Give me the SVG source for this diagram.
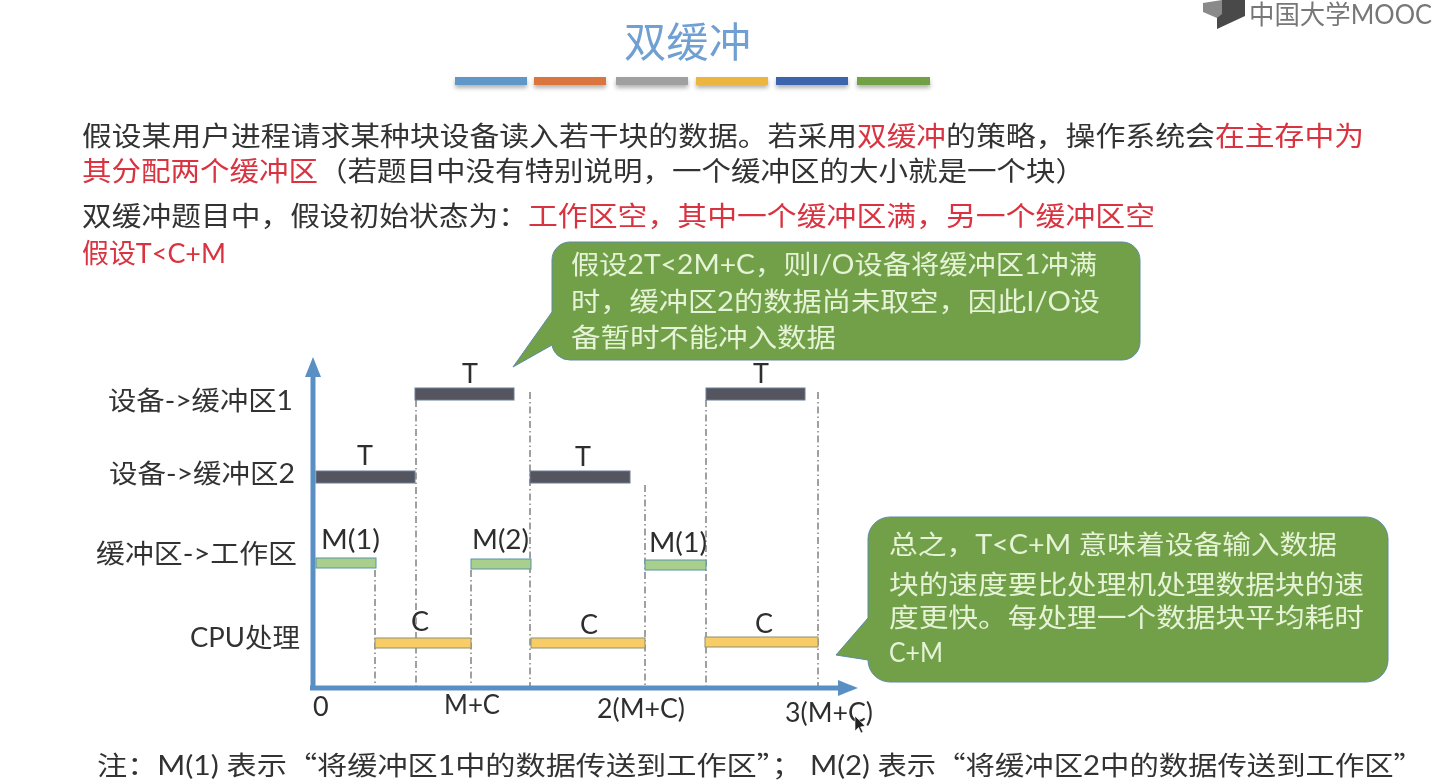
<svg xmlns="http://www.w3.org/2000/svg" width="1434" height="784" viewBox="0 0 1434 784">
<style>
text{font-family:"Lato","Noto Sans CJK SC",sans-serif;fill:#333}
.p{font-size:27px}
.r{fill:#d9333f}
.l{font-size:26px;fill:#333}
.s{font-size:27px;fill:#2e2e2e}
.b{font-size:26px;fill:#e6f3d6}
.q{font-family:"Noto Sans CJK SC",sans-serif}
.bub{fill:#71a04a;stroke:#5d8aa8;stroke-width:1}
.T{fill:#55555f;stroke:#6a7f95;stroke-width:1}
.M{fill:#a9cf8c;stroke:#5a93a8;stroke-width:1}
.C{fill:#f8cd68;stroke:#8f8f70;stroke-width:1}
.dash{stroke:#444;stroke-width:1;stroke-dasharray:7 3 1.5 3;fill:none}
.axis{stroke:#5a8fc3;stroke-width:5;fill:none}
.st{filter:url(#sh)}
</style>
<defs>
<filter id="soft" x="0" y="0" width="100%" height="100%"><feGaussianBlur stdDeviation="0.45"/></filter>
<filter id="sh" x="-10%" y="-50%" width="120%" height="250%"><feDropShadow dx="0" dy="3" stdDeviation="2" flood-color="#000" flood-opacity="0.3"/></filter>
<marker id="ah" viewBox="0 0 10 10" refX="2" refY="5" markerWidth="4" markerHeight="3.2" orient="auto" markerUnits="strokeWidth" preserveAspectRatio="none"><path d="M0 0L10 5L0 10z" fill="#5a8fc3"/></marker>
</defs>
<rect width="1434" height="784" fill="#fff"/>
<g filter="url(#soft)">
<g id="logo">
<path d="M1203 3L1222 0L1222 20L1217 29L1217 18L1203 12z" fill="#8a8a8a"/>
<path d="M1222 0L1245 0L1245 16L1217 29L1217 18L1222 14z" fill="#4a4a4a"/>
<text x="1249" y="24" font-size="26" textLength="183" lengthAdjust="spacingAndGlyphs" style="fill:#777">中国大学MOOC</text>
</g>
<g id="title">
<text x="624" y="57" font-size="41" textLength="127" lengthAdjust="spacingAndGlyphs" style="fill:#6f9fd2">双缓冲</text>
<rect class="st" x="455" y="77" width="72" height="8" fill="#5f97c8"/>
<rect class="st" x="534" y="77" width="72" height="8" fill="#d9743c"/>
<rect class="st" x="616" y="77" width="72" height="8" fill="#a0a0a0"/>
<rect class="st" x="696" y="77" width="72" height="8" fill="#ebb540"/>
<rect class="st" x="776" y="77" width="72" height="8" fill="#3a64ae"/>
<rect class="st" x="857" y="77" width="73" height="8" fill="#70a245"/>
</g>
<g id="intro">
<text class="p" x="82" y="146" textLength="775" lengthAdjust="spacingAndGlyphs">假设某用户进程请求某种块设备读入若干块的数据。若采用</text>
<text class="p r" x="857" y="146" textLength="89" lengthAdjust="spacingAndGlyphs">双缓冲</text>
<text class="p" x="946" y="146" textLength="269" lengthAdjust="spacingAndGlyphs">的策略，操作系统会</text>
<text class="p r" x="1215" y="146" textLength="149" lengthAdjust="spacingAndGlyphs">在主存中为</text>
<text class="p r" x="82" y="181" textLength="236" lengthAdjust="spacingAndGlyphs">其分配两个缓冲区</text>
<text class="p" x="318" y="181" textLength="767" lengthAdjust="spacingAndGlyphs">（若题目中没有特别说明，一个缓冲区的大小就是一个块）</text>
<text class="p" x="82" y="226" textLength="446" lengthAdjust="spacingAndGlyphs">双缓冲题目中，假设初始状态为：</text>
<text class="p r" x="528" y="226" textLength="627" lengthAdjust="spacingAndGlyphs">工作区空，其中一个缓冲区满，另一个缓冲区空</text>
<text class="p r" x="82" y="263" textLength="144" lengthAdjust="spacingAndGlyphs">假设T&lt;C+M</text>
</g>
<g id="connectors">
<path class="dash" d="M416 400V688M530 392V688M645 485V688M706 400V688M818 392V688M375 570V688M471 570V688"/>
<path class="axis" d="M313 690V373" marker-end="url(#ah)"/>
<path class="axis" d="M310 688H842" marker-end="url(#ah)"/>
</g>
<g id="row-device-buffer1">
<text class="l" x="108" y="410" textLength="185" lengthAdjust="spacingAndGlyphs">设备-&gt;缓冲区1</text>
<rect class="T" x="415" y="388" width="99" height="12"/><text class="s" x="462" y="383">T</text>
<rect class="T" x="706" y="388" width="99" height="12"/><text class="s" x="753" y="383">T</text>
</g>
<g id="row-device-buffer2">
<text class="l" x="109" y="483" textLength="186" lengthAdjust="spacingAndGlyphs">设备-&gt;缓冲区2</text>
<rect class="T" x="316" y="471" width="99" height="12"/><text class="s" x="357" y="465">T</text>
<rect class="T" x="530" y="471" width="100" height="12"/><text class="s" x="575" y="466">T</text>
</g>
<g id="row-buffer-work">
<text class="l" x="96" y="563" textLength="201" lengthAdjust="spacingAndGlyphs">缓冲区-&gt;工作区</text>
<rect class="M" x="316" y="558" width="60" height="10"/><text class="s" x="321" y="549" textLength="59" lengthAdjust="spacingAndGlyphs">M(1)</text>
<rect class="M" x="471" y="559" width="60" height="10"/><text class="s" x="472" y="549" textLength="57" lengthAdjust="spacingAndGlyphs">M(2)</text>
<rect class="M" x="645" y="560" width="61" height="10"/><text class="s" x="649" y="552" textLength="58" lengthAdjust="spacingAndGlyphs">M(1)</text>
</g>
<g id="row-cpu">
<text class="l" x="190" y="647" textLength="110" lengthAdjust="spacingAndGlyphs">CPU处理</text>
<rect class="C" x="375" y="638" width="96" height="10"/><text class="s" x="411" y="631">C</text>
<rect class="C" x="531" y="638" width="114" height="10"/><text class="s" x="580" y="634">C</text>
<rect class="C" x="705" y="637" width="113" height="10"/><text class="s" x="755" y="633">C</text>
</g>
<g id="ticks">
<text class="s" x="313" y="716">0</text>
<text class="s" x="444" y="714" textLength="56" lengthAdjust="spacingAndGlyphs">M+C</text>
<text class="s" x="597" y="718" textLength="88" lengthAdjust="spacingAndGlyphs">2(M+C)</text>
<text class="s" x="785" y="722" textLength="88" lengthAdjust="spacingAndGlyphs">3(M+C)</text>
</g>
<path id="cursor" d="M855 716L855 731L858.500 727.500L861 733L863 732L860.500 727L865 726z" fill="#222" stroke="#fff" stroke-width="0.600"/>
<g id="callout-1">
<path class="bub" d="M570 242H1122A18 18 0 0 1 1140 260V342A18 18 0 0 1 1122 360H570A18 18 0 0 1 552 345L513 367L552 312V260A18 18 0 0 1 570 242z"/>
<text class="b" x="571" y="274" textLength="526" lengthAdjust="spacingAndGlyphs">假设2T&lt;2M+C，则I/O设备将缓冲区1冲满</text>
<text class="b" x="571" y="311" textLength="529" lengthAdjust="spacingAndGlyphs">时，缓冲区2的数据尚未取空，因此I/O设</text>
<text class="b" x="571" y="347" textLength="265" lengthAdjust="spacingAndGlyphs">备暂时不能冲入数据</text>
</g>
<g id="callout-2">
<path class="bub" d="M890 517H1366A22 22 0 0 1 1388 539V660A22 22 0 0 1 1366 682H890A22 22 0 0 1 868 660L836 655L868 618V539A22 22 0 0 1 890 517z"/>
<text class="b" x="889" y="554" textLength="448" lengthAdjust="spacingAndGlyphs">总之，T&lt;C+M 意味着设备输入数据</text>
<text class="b" x="889" y="594" textLength="475" lengthAdjust="spacingAndGlyphs">块的速度要比处理机处理数据块的速</text>
<text class="b" x="889" y="627" textLength="475" lengthAdjust="spacingAndGlyphs">度更快。每处理一个数据块平均耗时</text>
<text class="b" x="889" y="662" textLength="54" lengthAdjust="spacingAndGlyphs">C+M</text>
</g>
<g id="note">
<text class="l" x="97" y="775" textLength="705" lengthAdjust="spacingAndGlyphs">注：M(1) 表示<tspan class="q">“</tspan>将缓冲区1中的数据传送到工作区<tspan class="q">”；</tspan></text>
<text class="l" x="810" y="775" textLength="613" lengthAdjust="spacingAndGlyphs">M(2) 表示<tspan class="q">“</tspan>将缓冲区2中的数据传送到工作区<tspan class="q">”</tspan></text>
</g>
</g>
</svg>
